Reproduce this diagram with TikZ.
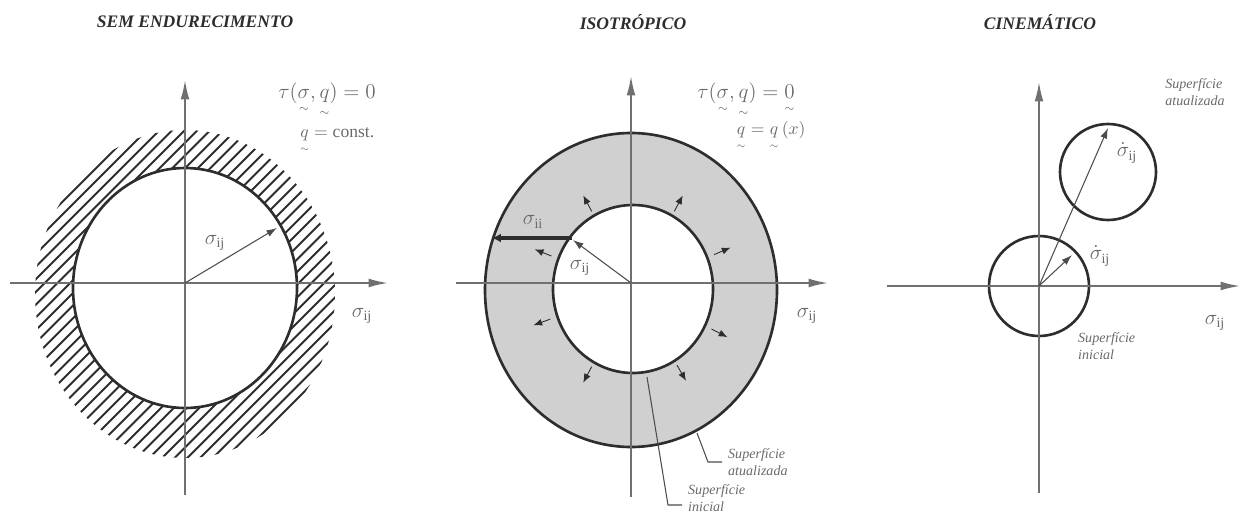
\documentclass[tikz,border=0pt]{standalone}
\usepackage{amsmath}
\usepackage{fontspec}
\setmainfont{Liberation Serif}
\usetikzlibrary{arrows.meta, calc, positioning}
\definecolor{axisgray}{RGB}{112,112,112}
\definecolor{curvedark}{RGB}{45,45,45}
\definecolor{labelgray}{RGB}{105,105,105}
\definecolor{ringfill}{RGB}{208,208,208}

\newcommand{\vt}[1]{\underset{\scriptscriptstyle\sim}{#1}}
\newcommand{\sij}{\sigma_{\mathrm{ij}}}

\begin{document}
\begin{tikzpicture}[x=0.02cm, y=-0.02cm,
    axisline/.style={axisgray, line width=1pt, -{Latex[length=11pt,width=5pt]}},
    surf/.style={curvedark, line width=1.5pt},
    vec/.style={curvedark!85, line width=0.6pt, -{Latex[length=6pt,width=4pt]}},
    growvec/.style={curvedark, line width=0.5pt, -{Latex[length=5pt,width=4pt]}},
    paneltitle/.style={curvedark, font=\bfseries\itshape},
    sig/.style={labelgray, font=\large},
    formula/.style={labelgray, font=\large},
    note/.style={labelgray, font=\footnotesize\itshape, align=left},
    leader/.style={curvedark!85, line width=0.6pt},
    hatch/.style={curvedark, line width=1.1pt}]
    \useasboundingbox (0,0) rectangle (1241,514);

    % Sem endurecimento
    \node[paneltitle] (t1) at (195,22) {SEM ENDURECIMENTO};
    \coordinate (o1) at (185,283);
    \coordinate (c1) at (185,288);
    \begin{scope}[even odd rule]
        \clip (185,294) ellipse [x radius=150, y radius=164]
              (c1) ellipse [x radius=112, y radius=120];
        \foreach \c in {150,162.7,...,820} {
            \draw[hatch] (\c,0) -- ++(-600,600);
        }
    \end{scope}
    \draw[surf] (c1) ellipse [x radius=112, y radius=120];
    \coordinate (x1a) at (10,283);
    \coordinate (x1b) at (388,283);
    \coordinate (y1a) at (185,495);
    \coordinate (y1b) at (185,80);
    \draw[axisline] (x1a) -- (x1b);
    \draw[axisline] (y1a) -- (y1b);
    \coordinate (p1) at (277,228);
    \draw[vec] (o1) -- (p1);
    \node[sig] (s1) at (215,243) {$\sij$};
    \node[sig] (s1x) at (362,316) {$\sij$};
    \node[formula] (f1) at (327,100) {$\tau(\vt{\sigma},\vt{q})=0$};
    \node[labelgray] (g1) at (337,140) {$\vt{q}=\text{const.}$};

    % Isotropico
    \node[paneltitle] (t2) at (633,22) {ISOTRÓPICO};
    \coordinate (o2) at (631,283);
    \coordinate (c2) at (631,290);
    \coordinate (ci2) at (633,289);
    \fill[ringfill, even odd rule] (c2) ellipse [x radius=146, y radius=157]
                                   (ci2) ellipse [x radius=80, y radius=84];
    \draw[surf] (c2) ellipse [x radius=146, y radius=157];
    \draw[surf] (ci2) ellipse [x radius=80, y radius=84];
    \coordinate (x2a) at (456,283);
    \coordinate (x2b) at (828,283);
    \coordinate (y2a) at (631,497);
    \coordinate (y2b) at (631,76);
    \draw[axisline] (x2a) -- (x2b);
    \draw[axisline] (y2a) -- (y2b);
    \foreach \a in {118,62,23,-27,-60,-118,-160,158} {
        \draw[growvec] ($(ci2)+(-\a:88)$) -- ($(ci2)+(-\a:106)$);
    }
    \coordinate (p2) at (573,240);
    \draw[vec] (o2) -- (p2);
    \coordinate (q2a) at (572,238);
    \coordinate (q2b) at (492,238);
    \draw[curvedark, line width=2pt, -{Latex[length=5pt,width=5pt]}] (q2a) -- (q2b);
    \node[sig] (s2) at (580,268) {$\sij$};
    \node[sig] (s2a) at (533,222) {$\sigma_{\mathrm{ii}}$};
    \node[sig] (s2x) at (807,316) {$\sij$};
    \node[formula] (f2) at (746,100) {$\tau(\vt{\sigma},\vt{q})=\vt{0}$};
    \node[labelgray] (g2) at (771,136) {$\vt{q}=\vt{q}\,(x)$};
    \node[note, anchor=west] (n2a) at (722,462) {Superfície\\atualizada};
    \node[note, anchor=west] (n2b) at (682,498) {Superfície\\inicial};
    \coordinate (l2a) at (697,433);
    \coordinate (l2b) at (647,377);
    \draw[leader] (l2a) -- (708,462) -- (n2a.west);
    \draw[leader] (l2b) -- (668,505) -- (n2b.west |- 0,505);

    % Cinematico
    \node[paneltitle] (t3) at (1040,22) {CINEMÁTICO};
    \coordinate (o3) at (1039,286);
    \coordinate (c3) at (1108,172);
    \draw[surf] (o3) circle [radius=50];
    \draw[surf] (c3) circle [radius=48];
    \coordinate (x3a) at (887,286);
    \coordinate (x3b) at (1240,286);
    \coordinate (y3a) at (1039,493);
    \coordinate (y3b) at (1039,82);
    \draw[axisline] (x3a) -- (x3b);
    \draw[axisline] (y3a) -- (y3b);
    \coordinate (p3) at (1108,128);
    \coordinate (r3) at (1072,255);
    \draw[vec] (o3) -- (p3);
    \draw[vec] (o3) -- (r3);
    \node[sig] (s3) at (1127,153) {$\dot{\sigma}_{\mathrm{ij}}$};
    \node[sig] (s3a) at (1100,256) {$\dot{\sigma}_{\mathrm{ij}}$};
    \node[sig] (s3x) at (1215,323) {$\sij$};
    \node[note] (n3a) at (1195,92) {Superfície\\atualizada};
    \node[note, anchor=west] (n3b) at (1072,346) {Superfície\\inicial};
\end{tikzpicture}
\end{document}
